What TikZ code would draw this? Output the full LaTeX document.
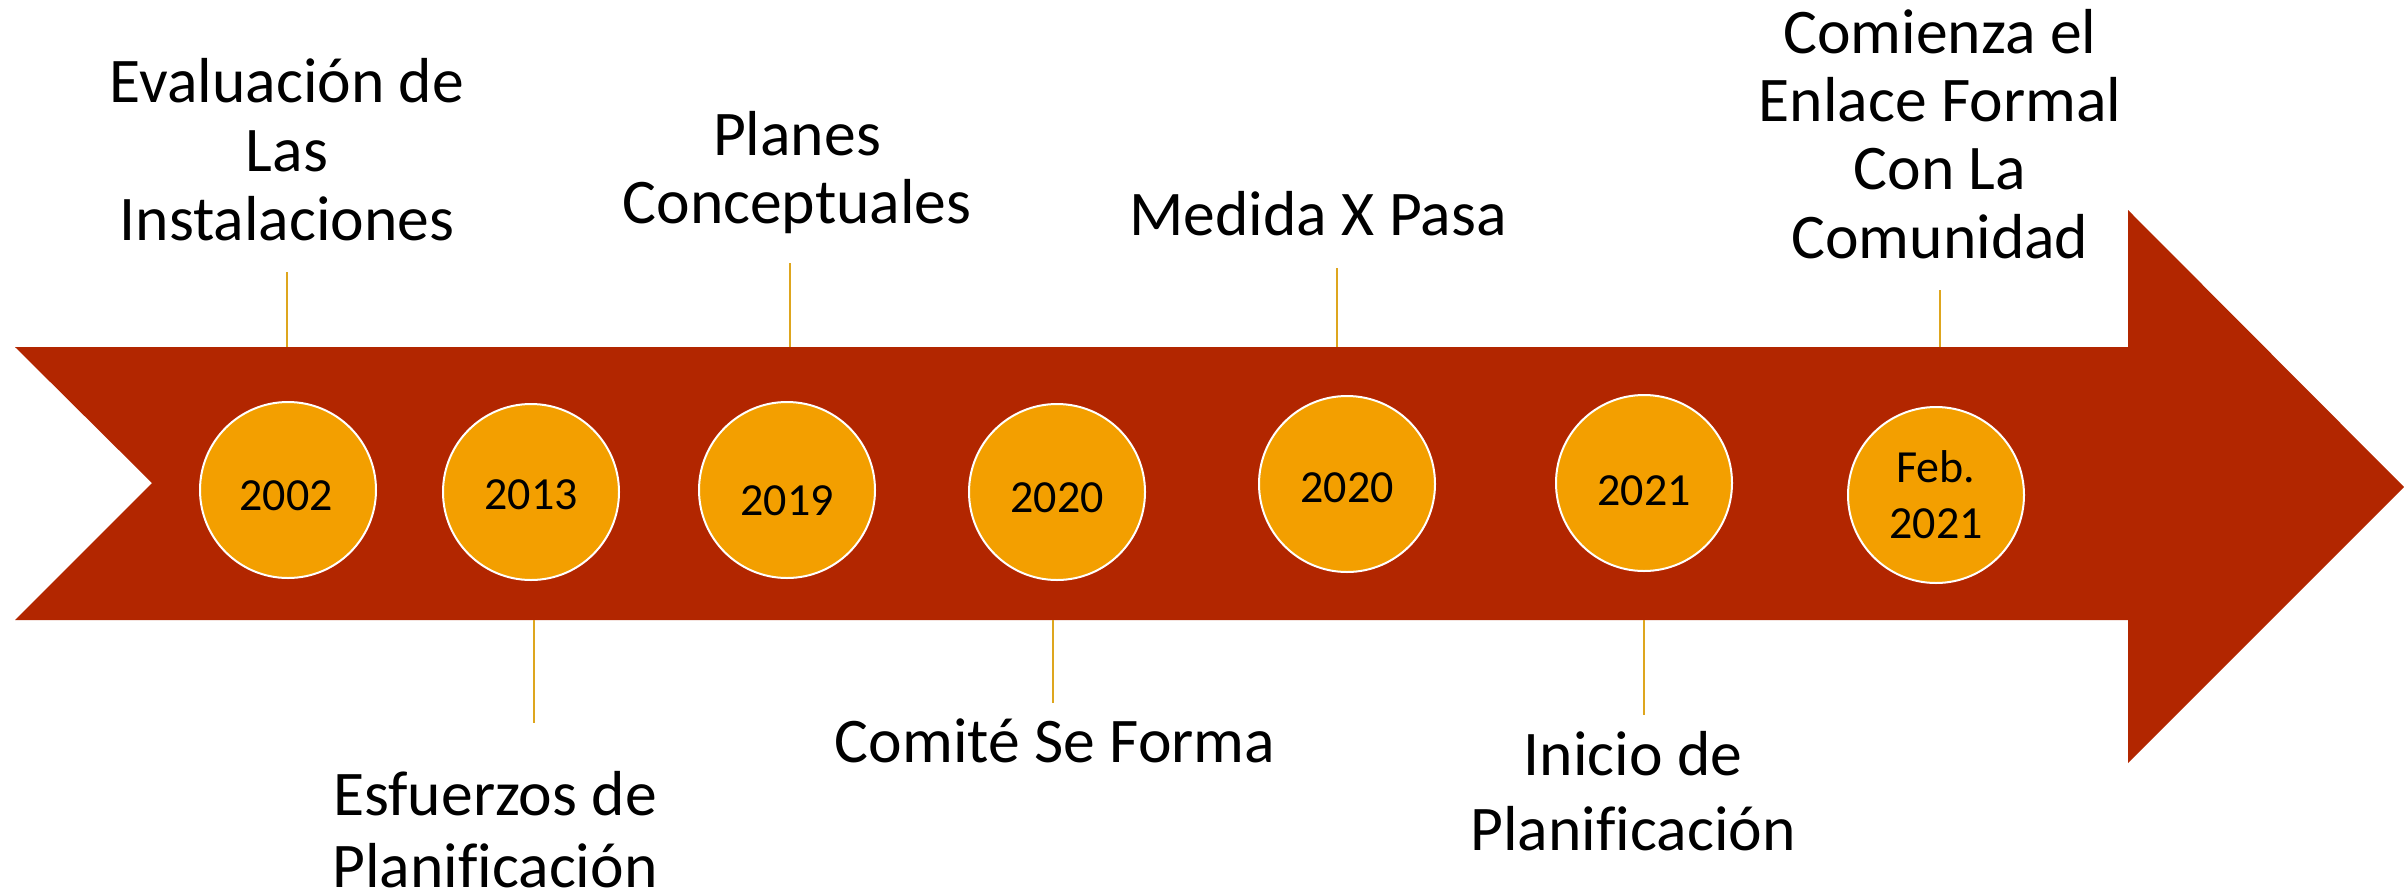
\documentclass[tikz,border=0pt]{standalone}
\usepackage{fontspec}
\setmainfont{Carlito}[Ligatures=NoCommon]
\definecolor{arrowred}{RGB}{178,38,0}
\definecolor{dotorange}{RGB}{243,159,0}
\definecolor{tickgold}{RGB}{222,166,30}
\newcommand{\evlines}[1]{\begin{tabular}[t]{@{}c@{}}#1\end{tabular}}
\begin{document}
\begin{tikzpicture}[x=0.5pt,y=-0.5pt,
  dot/.style={circle, fill=dotorange, draw=white, line width=1pt, minimum size=88pt, inner sep=0pt},
  yeartxt/.style={anchor=base, inner sep=0pt, font=\fontsize{23}{28}\selectfont},
  evtxt/.style={anchor=base, inner sep=0pt},
  tick/.style={draw=tickgold, line width=1pt}]
\useasboundingbox (0,0) rectangle (2404,895);
% main arrow
\fill[arrowred] (15,347) -- (2128,347) -- (2128,210) -- (2404,487) -- (2128,763)
  -- (2128,620) -- (15,620) -- (152,483) -- cycle;
% tick coordinates
\coordinate (a1) at (287,272);  \coordinate (b1) at (287,347);
\coordinate (a2) at (534,620);  \coordinate (b2) at (534,723);
\coordinate (a3) at (790,263);  \coordinate (b3) at (790,347);
\coordinate (a4) at (1053,620); \coordinate (b4) at (1053,703);
\coordinate (a5) at (1337,268); \coordinate (b5) at (1337,347);
\coordinate (a6) at (1644,620); \coordinate (b6) at (1644,715);
\coordinate (a7) at (1940,290); \coordinate (b7) at (1940,347);
\foreach \i in {1,...,7} \draw[tick] (a\i) -- (b\i);
% circles
\node[dot] (c1) at (288,490) {};
\node[dot] (c2) at (531,492) {};
\node[dot] (c3) at (787,490) {};
\node[dot] (c4) at (1057,492) {};
\node[dot] (c5) at (1347,484) {};
\node[dot] (c6) at (1644,483) {};
\node[dot] (c7) at (1936,495) {};
% years
\node[yeartxt] (y1) at (286,510) {2002};
\node[yeartxt] (y2) at (531,509) {2013};
\node[yeartxt] (y3) at (787,515) {2019};
\node[yeartxt] (y4) at (1057,512) {2020};
\node[yeartxt] (y5) at (1347,502) {2020};
\node[yeartxt] (y6) at (1644,505) {2021};
\node[yeartxt] (y7) at (1936,482) {\evlines{Feb.\\2021}};
% event labels
\node[evtxt, font=\fontsize{31.8}{34.5}\selectfont] (e1) at (287,102) {\evlines{Evaluación de\\Las\\Instalaciones}};
\node[evtxt, font=\fontsize{31.8}{36}\selectfont] (e2) at (495,815) {\evlines{Esfuerzos de\\Planificación}};
\node[evtxt, font=\fontsize{31.8}{34}\selectfont] (e3) at (797,155) {\evlines{Planes\\Conceptuales}};
\node[evtxt, font=\fontsize{31.8}{34}\selectfont] (e4) at (1055,762) {Comité Se Forma};
\node[evtxt, font=\fontsize{31.8}{34}\selectfont] (e5) at (1318,235) {Medida X Pasa};
\node[evtxt, font=\fontsize{31.8}{37.5}\selectfont] (e6) at (1633,775) {\evlines{Inicio de\\Planificación}};
\node[evtxt, font=\fontsize{31.8}{34.2}\selectfont] (e7) at (1940,53) {\evlines{Comienza el\\Enlace Formal\\Con La\\Comunidad}};
\end{tikzpicture}
\end{document}
